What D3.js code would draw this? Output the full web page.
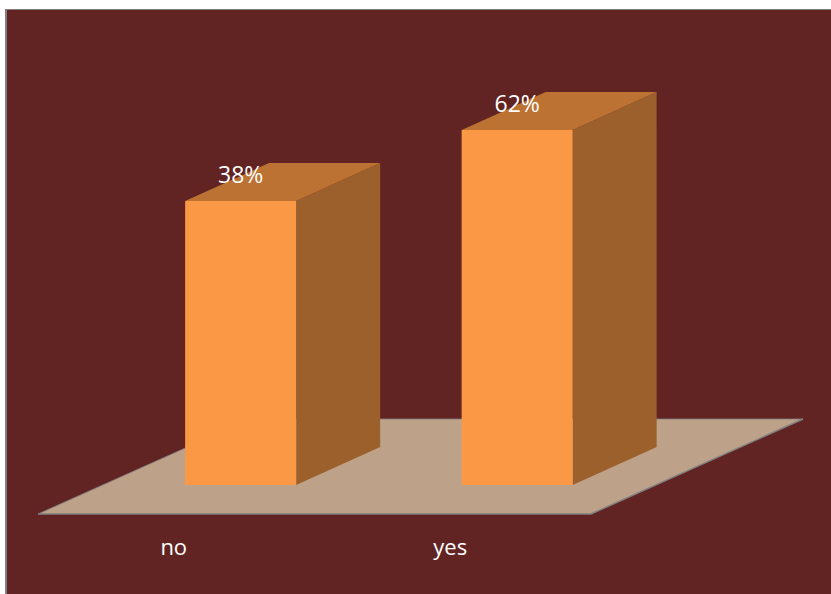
<!DOCTYPE html>
<html>
<head>
<meta charset="utf-8">
<script src="https://cdn.jsdelivr.net/npm/d3@7/dist/d3.min.js"></script>
<style>
html,body{margin:0;padding:0;background:#fff;overflow:hidden}
svg{display:block}
text{font-family:"Open Sans",sans-serif;fill:#fff}
</style>
</head>
<body>
<svg id="c" width="831" height="594"></svg>
<script>
const categories = ["no", "yes"];
const percents = [38, 62];
const valueLabels = ["38%", "62%"];
const axisDomain = [-58, 62];

const colors = {bg:"#622423", frame:"#808080", floor:"#bda189", front:"#fb9845", top:"#bc7232", side:"#9c602c"};
const svg = d3.select("#c");

svg.append("rect").attr("x",5).attr("y",9).attr("width",826).attr("height",585).attr("fill",colors.frame);
svg.append("rect").attr("x",7).attr("y",10).attr("width",824).attr("height",584).attr("fill",colors.bg);

const y = d3.scaleLinear().domain(axisDomain).range([485,130]);
const band = d3.scaleBand().domain(categories).range([38,591]);

const depth = {dx:84, dy:-38};
const floorDepth = {dx:212, dy:-95};
const floorY = 514;
const barShift = 64.4;
const line = d3.line();

// floor
svg.append("path")
  .attr("d", line([[38,floorY],[591,floorY],[591+floorDepth.dx,floorY+floorDepth.dy],[38+floorDepth.dx,floorY+floorDepth.dy]])+"Z")
  .attr("fill",colors.floor);
svg.append("path")
  .attr("d", line([[591+floorDepth.dx,floorY+floorDepth.dy],[591,floorY],[38,floorY]]))
  .attr("fill","none").attr("stroke",colors.frame).attr("stroke-width",1.5);
svg.append("path")
  .attr("d", line([[38,floorY],[38+floorDepth.dx,floorY+floorDepth.dy],[591+floorDepth.dx,floorY+floorDepth.dy]]))
  .attr("fill","none").attr("stroke",colors.frame).attr("stroke-width",0.8);

const bw = 111;
const bars = svg.selectAll("g.bar").data(categories).join("g").attr("class","bar");
const left = c => band(c)+band.bandwidth()/2+barShift-bw/2;
const base = y(axisDomain[0]);
const topY = (c,i) => y(percents[i]);

bars.append("path").attr("fill",colors.side).attr("d",(c,i)=>{
  const r=left(c)+bw,t=topY(c,i);
  return line([[r,t],[r+depth.dx,t+depth.dy],[r+depth.dx,base+depth.dy],[r,base]])+"Z";
});
bars.append("path").attr("fill",colors.top).attr("d",(c,i)=>{
  const l=left(c),t=topY(c,i);
  return line([[l,t],[l+bw,t],[l+bw+depth.dx,t+depth.dy],[l+depth.dx,t+depth.dy]])+"Z";
});
bars.append("rect").attr("fill",colors.front)
  .attr("x",c=>left(c)).attr("y",(c,i)=>topY(c,i))
  .attr("width",bw).attr("height",(c,i)=>base-topY(c,i));

// value labels
svg.selectAll("text.val").data(categories).join("text").attr("class","val")
  .attr("x",c=>left(c)+bw/2)
  .attr("y",(c,i)=>topY(c,i)-18)
  .attr("text-anchor","middle").attr("font-size",23)
  .text((c,i)=>valueLabels[i]);

// category labels
svg.selectAll("text.cat").data(categories).join("text").attr("class","cat")
  .attr("x",c=>band(c)+band.bandwidth()/2-2.5)
  .attr("y",555)
  .attr("text-anchor","middle").attr("font-size",22)
  .text(c=>c);
</script>
</body>
</html>
